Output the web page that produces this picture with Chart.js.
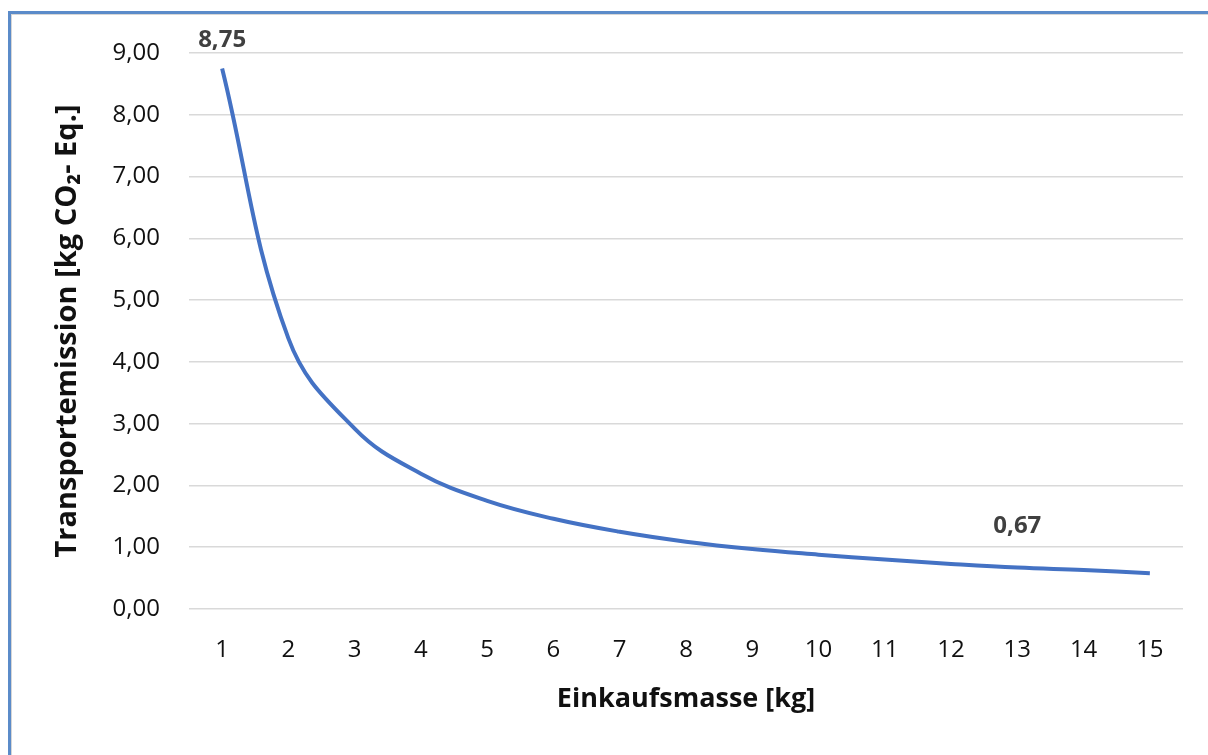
<!DOCTYPE html>
<html>
<head>
<meta charset="utf-8">
<script src="https://cdn.jsdelivr.net/npm/chart.js@4"></script>
<style>
  html, body { margin: 0; padding: 0; background: #fff; }
  #wrap { position: relative; width: 1208px; height: 755px; }
  #frame {
    position: absolute; left: 8px; top: 11px; right: 0; bottom: 0;
    border-top: 3px solid #5b8bc9; border-left: 3px solid #5b8bc9;
    box-shadow: inset 1px 1px 0 #d6d6d6;
    pointer-events: none;
  }
  canvas { position: absolute; left: 0; top: 0; }
</style>
</head>
<body>
<div id="wrap">
  <canvas id="chart" width="1208" height="755"></canvas>
  <div id="frame"></div>
</div>
<script>
// Einkaufsmasse [kg]
const masses = ['1', '2', '3', '4', '5', '6', '7', '8', '9', '10', '11', '12', '13', '14', '15'];
// Transportemission [kg CO2-Eq.]
const emissions = [8.75, 4.38, 2.92, 2.19, 1.75, 1.46, 1.25, 1.09, 0.97, 0.88, 0.80, 0.73, 0.67, 0.63, 0.58];
// points that carry a value label in the original
const labeledPoints = [0, 12];

const fmt = v => Number(v).toFixed(2).replace('.', ',');

// simple value labels (no datalabels plugin available offline)
const pointLabels = {
  id: 'pointLabels',
  afterDatasetsDraw(chart, args, opts) {
    const ctx = chart.ctx;
    const meta = chart.getDatasetMeta(0);
    ctx.save();
    ctx.font = opts.font;
    ctx.fillStyle = opts.color;
    ctx.textAlign = 'center';
    ctx.textBaseline = 'middle';
    opts.indices.forEach((i, k) => {
      const pt = meta.data[i];
      ctx.fillText(fmt(emissions[i]), pt.x + opts.dx[k], pt.y - opts.lift[k]);
    });
    ctx.restore();
  }
};

new Chart(document.getElementById('chart'), {
  type: 'line',
  data: {
    labels: masses,
    datasets: [{
      data: emissions,
      borderColor: '#4472c4',
      borderWidth: 4,
      pointRadius: 0,
      tension: 0.4,
      fill: false
    }]
  },
  options: {
    responsive: false,
    animation: false,
    layout: { padding: { left: 10, right: 25, top: 53, bottom: 0 } },
    plugins: {
      legend: { display: false },
      tooltip: { enabled: false },
      pointLabels: {
        indices: labeledPoints,
        dx: [0, 0],
        lift: [28, 41],
        font: 'bold 24px "Open Sans"',
        color: '#404040'
      }
    },
    scales: {
      x: {
        offset: true,
        afterFit(scale) { scale.height = 146; },
        grid: { display: false, drawTicks: false },
        border: { display: false },
        ticks: { color: '#111', font: { family: 'Open Sans', size: 24 }, padding: 27, maxRotation: 0 },
        title: {
          display: true,
          text: 'Einkaufsmasse [kg]',
          color: '#111',
          font: { family: 'Open Sans', size: 27, weight: 'bold' },
          padding: { top: 0, bottom: 39 }
        }
      },
      y: {
        min: 0,
        max: 9,
        afterFit(scale) { scale.width = 179; },
        grid: { color: '#d9d9d9', lineWidth: 1.5, drawTicks: false },
        border: { display: false },
        ticks: {
          stepSize: 1,
          color: '#111',
          font: { family: 'Open Sans', size: 24 },
          padding: 29,
          callback: v => fmt(v)
        },
        title: {
          display: true,
          text: 'Transportemission [kg CO\u2082- Eq.]',
          color: '#111',
          font: { family: 'Open Sans', size: 29, weight: 'bold' },
          padding: { top: 40, bottom: 0 }
        }
      }
    }
  },
  plugins: [pointLabels]
});
</script>
</body>
</html>
